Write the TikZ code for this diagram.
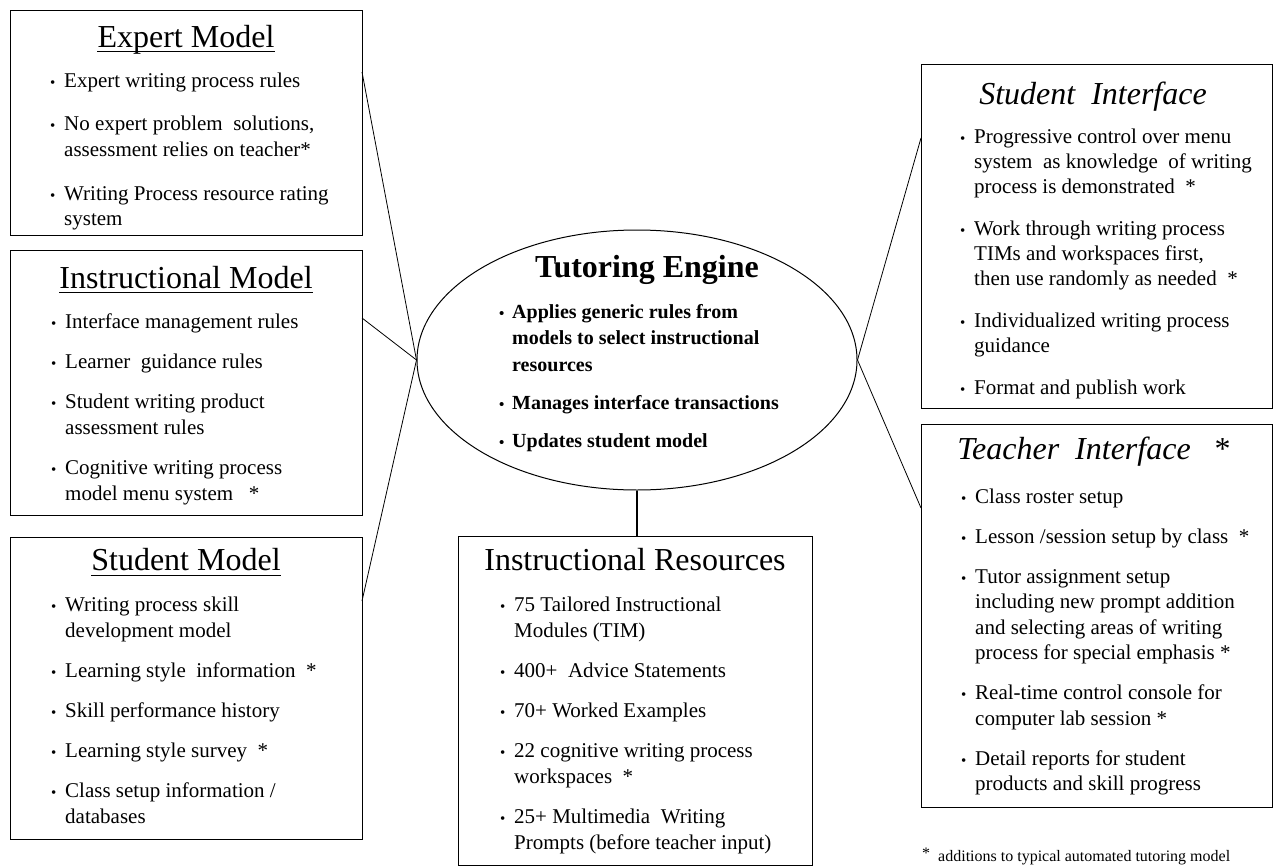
\documentclass[tikz,border=0pt]{standalone}
\usepackage{fontspec}
\setmainfont{Liberation Serif}
\usetikzlibrary{shapes.geometric}
\newcommand\bul{\raisebox{0pt}{\fontsize{15}{15}\selectfont\textbullet}}
\newcommand\B{\makebox[14pt][l]{\bul}}
\newcommand\C{\hspace*{14pt}}
\begin{document}
\begin{tikzpicture}[x=1pt,y=-1pt,
  box/.style={draw, line width=1.2pt, rectangle, anchor=north west, inner sep=0},
  ttl/.style={font=\fontsize{32}{36}\selectfont, inner sep=0, anchor=base},
  body/.style={font=\fontsize{21}{#1}\selectfont, inner sep=0, anchor=base west},
  body/.default=26,
  link/.style={line width=0.8pt},
  uline/.style={line width=1pt}]
\path[use as bounding box, fill=white] (0,0) rectangle (1276,867);

% ---------- boxes ----------
\node[box, minimum width=352, minimum height=225] (em) at (10,10) {};
\node[box, minimum width=352, minimum height=265] (im) at (10,250) {};
\node[box, minimum width=352, minimum height=302] (sm) at (10,537) {};
\node[box, minimum width=354, minimum height=329] (ir) at (458,536) {};
\node[box, minimum width=351, minimum height=344] (si) at (921,64) {};
\node[box, minimum width=351, minimum height=383] (ti) at (921,424) {};
\node[draw, line width=1pt, ellipse, minimum width=440, minimum height=260, inner sep=0] (te) at (637,360) {};

% ---------- titles ----------
\node[ttl] (emt) at (186,48) {Expert Model};
\draw[uline] ([yshift=-4pt]emt.base west) -- ([yshift=-4pt]emt.base east);
\node[ttl] (imt) at (186,288) {Instructional Model};
\draw[uline] ([yshift=-4pt]imt.base west) -- ([yshift=-4pt]imt.base east);
\node[ttl] (smt) at (186,570) {Student Model};
\draw[uline] ([yshift=-5pt]smt.base west) -- ([yshift=-5pt]smt.base east);
\node[ttl] (irt) at (635,570) {Instructional Resources};
\node[ttl, font=\fontsize{32}{36}\selectfont\itshape] (sit) at (1093,104) {Student\ \ Interface};
\node[ttl, font=\fontsize{32}{36}\selectfont\itshape] (tit) at (1094,459) {Teacher\ \ Interface\ \ \ \upshape *};
\node[inner sep=0, anchor=base, font=\fontsize{32}{36}\selectfont\bfseries] (tet) at (647,277) {Tutoring Engine};

% ---------- bodies ----------
\node[body] (emb) at (50,88) {\begin{tabular}[t]{@{}l@{}}
\B Expert writing process rules\\[17pt]
\B No expert problem\ \ solutions,\\
\C assessment relies on teacher*\\[17pt]
\B Writing Process resource rating\\
\C system
\end{tabular}};

\node[body] (imb) at (51,328) {\begin{tabular}[t]{@{}l@{}}
\B Interface management rules\\[14pt]
\B Learner\ \ guidance rules\\[14pt]
\B Student writing product\\
\C assessment rules\\[14pt]
\B Cognitive writing process\\
\C model menu system\ \ \ *
\end{tabular}};

\node[body] (smb) at (51,611) {\begin{tabular}[t]{@{}l@{}}
\B Writing process skill\\
\C development model\\[14pt]
\B Learning style\ \ information\ \ *\\[14pt]
\B Skill performance history\\[14pt]
\B Learning style survey\ \ *\\[14pt]
\B Class setup information /\\
\C databases
\end{tabular}};

\node[body] (irb) at (500,611) {\begin{tabular}[t]{@{}l@{}}
\B 75 Tailored Instructional\\
\C Modules (TIM)\\[14pt]
\B 400+\ \ Advice Statements\\[14pt]
\B 70+ Worked Examples\\[14pt]
\B 22 cognitive writing process\\
\C workspaces\ \ *\\[14pt]
\B 25+ Multimedia\ \ Writing\\
\C Prompts (before teacher input)
\end{tabular}};

\node[body=25] (sib) at (960,143) {\begin{tabular}[t]{@{}l@{}}
\B Progressive control over menu\\
\C system\ \ as knowledge\ \ of writing\\
\C process is demonstrated\ \ *\\[17pt]
\B Work through writing process\\
\C TIMs and workspaces first,\\
\C then use randomly as needed\ \ *\\[17pt]
\B Individualized writing process\\
\C guidance\\[17pt]
\B Format and publish work
\end{tabular}};

\node[body=25.5] (tib) at (961,503) {\begin{tabular}[t]{@{}l@{}}
\B Class roster setup\\[14.5pt]
\B Lesson /session setup by class\ \ *\\[14.5pt]
\B Tutor assignment setup\\
\C including new prompt addition\\
\C and selecting areas of writing\\
\C process for special emphasis *\\[14.5pt]
\B Real-time control console for\\
\C computer lab session *\\[14.5pt]
\B Detail reports for student\\
\C products and skill progress
\end{tabular}};

\node[inner sep=0, anchor=base west, font=\fontsize{20}{26.5}\selectfont\bfseries] (teb) at (499,318) {\begin{tabular}[t]{@{}l@{}}
\makebox[13pt][l]{\bul}Applies generic rules from\\
\hspace*{13pt}models to select instructional\\
\hspace*{13pt}resources\\[12pt]
\makebox[13pt][l]{\bul}Manages interface transactions\\[11pt]
\makebox[13pt][l]{\bul}Updates student model
\end{tabular}};

% ---------- footnote ----------
\node[inner sep=0, anchor=base west, font=\fontsize{16}{20}\selectfont] (fn) at (922,861) {\raisebox{3pt}{*}\ \ additions to typical automated tutoring model};

% ---------- connectors ----------
\coordinate (emA) at (362,72);
\coordinate (imA) at (362,318);
\coordinate (smA) at (362,601);
\coordinate (siA) at (921,138);
\coordinate (tiA) at (921,508);
\draw[link] (emA) -- (te.west);
\draw[link] (imA) -- (te.west);
\draw[link] (smA) -- (te.west);
\draw[link] (siA) -- (te.east);
\draw[link] (tiA) -- (te.east);
\draw[link, line width=1.2pt] (te.south) -- (ir.north -| te.south);
\end{tikzpicture}
\end{document}
